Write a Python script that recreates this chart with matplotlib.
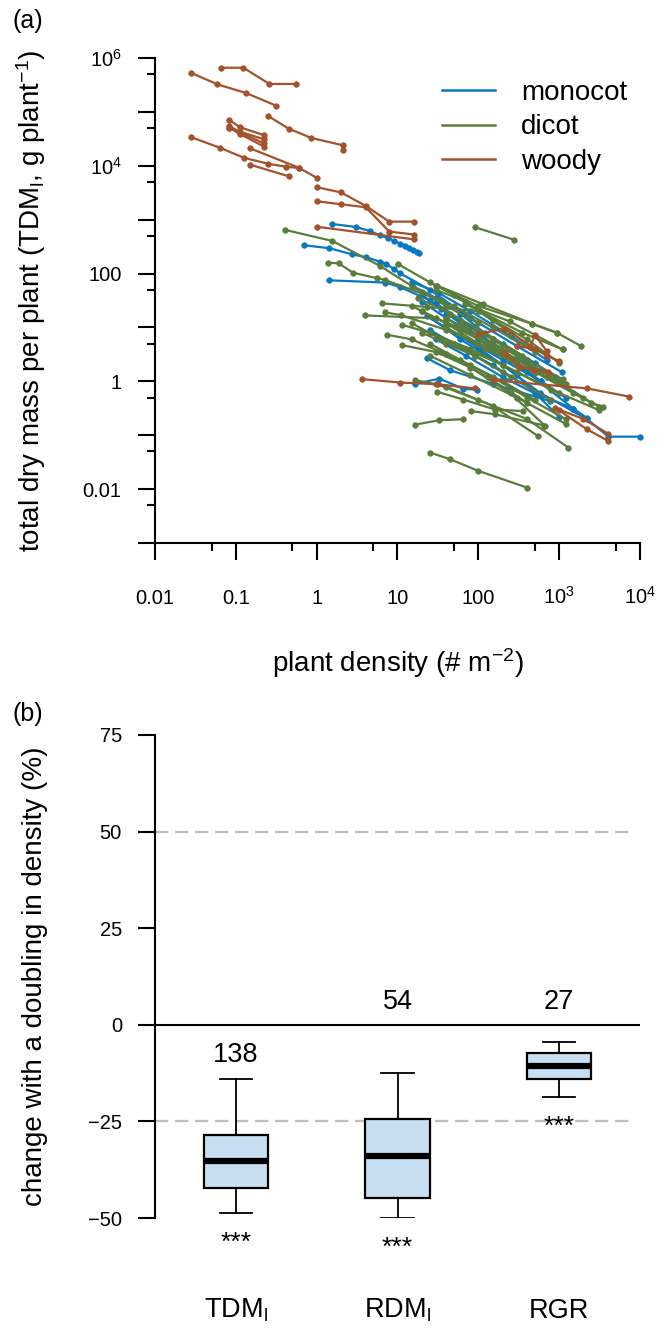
import matplotlib
matplotlib.use("Agg")
import matplotlib.pyplot as plt
from matplotlib.lines import Line2D
from matplotlib.ticker import FixedLocator, NullFormatter

plt.rcParams['font.family'] = ['Liberation Sans', 'DejaVu Sans']
plt.rcParams['mathtext.fontset'] = 'custom'
plt.rcParams['mathtext.rm'] = 'Liberation Sans'
plt.rcParams['mathtext.it'] = 'Liberation Sans:italic'
plt.rcParams['mathtext.default'] = 'regular'

# ---------------- data: panel (a) ----------------
monocot_x = [
    [1.54, 3.08, 4.58, 6.09, 7.59, 9.16, 10.8, 12.4, 14.0, 15.7, 17.3, 18.5],
    [0.70, 1.44, 2.72, 4.08, 6.09, 7.23, 9.16, 10.8, 25, 80, 300, 1080],
    [1.41, 7.08, 10.8, 25, 60],
    [16.5, 33, 65, 95],
    [30, 60, 150, 400, 1500],
    [20, 60, 200, 580, 2200, 4070, 10000],
    [40, 100, 300, 1000],
    [20, 35, 70, 200, 600, 1000],
    [15, 30, 60, 150, 400],
    [23, 45, 150, 770],
    [23, 60, 200, 600, 1200],
    [15, 32, 80, 250, 700],
    [25, 50, 150, 600, 1500, 2200],
    [20, 40, 100, 250, 600],
    [30, 70, 200, 500],
    [40, 80, 200, 500, 900],
]
monocot_y = [
    [832, 732, 609, 514, 457, 402, 359, 330, 303, 274, 249, 238],
    [335, 295, 228, 201, 166, 151, 120, 101, 50, 15, 4.5, 1.48],
    [75, 68, 56, 32, 12],
    [0.9, 1.12, 0.73, 0.70],
    [28, 14, 5, 1.5, 0.31],
    [20, 6, 2, 0.61, 0.20, 0.094, 0.094],
    [10, 4.2, 1.3, 0.22],
    [40, 22, 10, 3.5, 1.6, 1.0],
    [60, 35, 18, 6, 2.5],
    [2.7, 1.6, 0.9, 0.43],
    [16, 7, 2.5, 1.0, 0.5],
    [70, 44, 20, 7, 2.5],
    [9, 5, 2, 0.55, 0.31, 0.21],
    [30, 15, 6, 2.5, 1.0],
    [6, 3, 1.2, 0.6],
    [18, 10, 5, 2.2, 1.2],
]
dicot_x = [
    [0.41, 1.56, 6, 15.5, 40, 100],
    [91, 275],
    [10.1, 30, 100, 467, 933, 1870],
    [1.40, 1.87, 2.80, 5.55, 7.03, 33.7],
    [6.4, 23, 105, 350, 1100],
    [4.0, 30, 100, 300, 1230],
    [7.0, 11, 40, 150, 500],
    [7.5, 15, 40, 130, 400],
    [11.3, 25, 80, 300, 1000],
    [11.3, 30, 80, 250, 670],
    [16.4, 33, 65],
    [25.3, 44.8, 100, 398],
    [81, 161, 658],
    [16.5, 40, 150, 545],
    [30, 100, 400, 1300],
    [40, 120, 500, 1500, 3150],
    [50, 200, 800, 3150],
    [25, 80, 300, 1230],
    [20, 50, 150, 500],
    [15, 40, 100, 300],
    [25, 50, 100, 250, 700],
    [30, 70, 150, 400, 1000],
    [20, 40, 90, 200],
    [35, 80, 200, 500],
    [60, 150, 400, 1100],
    [30.6, 115, 460, 930],
    [69, 245, 1100],
    [20, 60, 200, 700, 2000],
    [15, 35, 90, 250, 800],
    [25, 60, 150, 400, 1200],
    [31, 65, 160, 360],
    [40, 100, 300, 800, 2500, 3500],
    [18, 45, 120, 350],
]
dicot_y = [
    [644, 403, 140, 57, 25, 12],
    [723, 426],
    [151, 59, 25, 11.6, 8.0, 4.5],
    [159, 155, 104, 82, 76, 32],
    [28, 24, 20, 8, 3.9],
    [16.7, 14.8, 7, 2.5, 0.9],
    [19, 17, 9, 4, 1.4],
    [7.3, 6, 3.2, 1.2, 0.4],
    [11.2, 8, 4, 1.5, 0.6],
    [4.7, 3.5, 1.8, 0.6, 0.149],
    [0.157, 0.19, 0.198],
    [0.0475, 0.0358, 0.0218, 0.0107],
    [0.28, 0.245, 0.151],
    [1.06, 0.8, 0.35, 0.097],
    [0.9, 0.45, 0.2, 0.059],
    [10, 4, 1.5, 0.6, 0.34],
    [5, 2, 0.7, 0.29],
    [3, 1.3, 0.5, 0.16],
    [45, 25, 10, 3.5],
    [25, 12, 5, 2],
    [70, 40, 20, 8, 3],
    [50, 30, 14, 6, 2.2],
    [8, 5, 3, 1.5],
    [3.5, 2, 1, 0.45],
    [12, 6, 2.5, 1.1],
    [60, 27, 11.8, 8.0],
    [27, 12.9, 3.9],
    [20, 9, 3.5, 1.2, 0.5],
    [12, 6, 3, 1.2, 0.45],
    [5, 2.5, 1.2, 0.5, 0.2],
    [0.64, 0.46, 0.3, 0.28],
    [15, 7, 3, 1.2, 0.4, 0.33],
    [35, 18, 8, 3],
]
woody_x = [
    [0.066, 0.124, 0.26, 0.55],
    [0.028, 0.059, 0.134, 0.317],
    [0.25, 0.45, 0.85, 2.1, 2.1],
    [0.083, 0.112, 0.223],
    [0.083, 0.112, 0.223],
    [0.083, 0.112, 0.223],
    [0.083, 0.112, 0.223],
    [0.028, 0.063, 0.127, 0.252, 0.415, 0.60],
    [0.150, 0.60, 1.02],
    [0.150, 0.449],
    [1.0, 2.0, 4.05, 7.9, 16.2],
    [1.0, 2.0, 4.05, 7.9, 16.2],
    [1.0, 16.2],
    [3.6, 10.8, 32, 91],
    [150, 2200, 7400],
    [100, 216, 440, 500, 705],
    [300, 500, 700, 990],
    [215, 330, 480, 720],
    [890, 2200, 4070],
    [1000, 2000, 4070],
]
woody_y = [
    [6.6e5, 6.6e5, 3.3e5, 3.3e5],
    [5.3e5, 3.25e5, 2.24e5, 1.3e5],
    [8.4e4, 4.9e4, 3.3e4, 2.4e4, 1.96e4],
    [7.1e4, 5.2e4, 3.7e4],
    [5.5e4, 4.2e4, 2.6e4],
    [4.95e4, 4.3e4, 3.1e4],
    [5.1e4, 3.9e4, 2.27e4],
    [3.4e4, 2.17e4, 1.40e4, 1.09e4, 9.6e3, 9.1e3],
    [2.11e4, 9.2e3, 5.9e3],
    [1.05e4, 6.4e3],
    [4.0e3, 3.2e3, 1.8e3, 920, 920],
    [2.2e3, 1.93e3, 1.7e3, 600, 530],
    [740, 430],
    [1.1, 0.95, 0.88, 0.74],
    [1.05, 0.74, 0.52],
    [7.6, 9.5, 4.4, 7.3, 3.6],
    [4.5, 4.0, 3.0, 2.4],
    [3.3, 1.87, 1.64, 1.51],
    [0.325, 0.129, 0.078],
    [0.30, 0.20, 0.106],
]
group_names = ['monocot', 'dicot', 'woody']
group_colors = ['#0878C0', '#5A7D3C', '#A3522B']

x_major = [0.01, 0.1, 1, 10, 100, 1000, 10000]
x_major_labels = ['0.01', '0.1', '1', '10', '100', '10$^3$', '10$^4$']
y_major = [1e-3, 1e-2, 1e-1, 1, 10, 100, 1e3, 1e4, 1e5, 1e6]
y_major_labels = ['', '0.01', '', '1', '', '100', '', '10$^4$', '', '10$^6$']
x_minor = [0.05, 0.5, 5, 50, 500, 5000]
y_minor = [5e-3, 5e-2, 0.5, 5, 50, 500, 5e3, 5e4, 5e5]

# ---------------- data: panel (b) ----------------
box_names = ['TDM$_l$', 'RDM$_l$', 'RGR']
box_n = ['138', '54', '27']
box_whislo = [-48.6, -49.9, -18.6]
box_q1 = [-42.3, -44.9, -13.9]
box_med = [-35.3, -34.0, -10.6]
box_q3 = [-28.5, -24.3, -7.3]
box_whishi = [-13.9, -12.5, -4.4]
box_signif = ['***', '***', '***']
y2_ticks = [-50, -25, 0, 25, 50, 75]
ref_lines = [50, -25]

# ---------------- figure ----------------
W, H = 671, 1328
fig = plt.figure(figsize=(W / 100, H / 100), dpi=100)

def px_axes(l, r, t, b):
    return [l / W, 1 - b / H, (r - l) / W, (b - t) / H]

ax1 = fig.add_axes(px_axes(155, 640, 58, 543))
ax2 = fig.add_axes(px_axes(155.25, 639.75, 735, 1218))

# panel (a)
for xs, ys, col in [(monocot_x, monocot_y, group_colors[0]),
                    (dicot_x, dicot_y, group_colors[1]),
                    (woody_x, woody_y, group_colors[2])]:
    for x, y in zip(xs, ys):
        ax1.plot(x, y, '-o', color=col, lw=1.6, ms=4.0, mec=col, mew=0.5,
                 clip_on=False)

ax1.set_xscale('log')
ax1.set_yscale('log')
ax1.set_xlim(0.01, 1e4)
ax1.set_ylim(1e-3, 1e6)
for s in ['top', 'right']:
    ax1.spines[s].set_visible(False)
for s in ['left', 'bottom']:
    ax1.spines[s].set_linewidth(1.5)
ax1.xaxis.set_major_locator(FixedLocator(x_major))
ax1.set_xticklabels(x_major_labels)
ax1.xaxis.set_minor_locator(FixedLocator(x_minor))
ax1.xaxis.set_minor_formatter(NullFormatter())
ax1.yaxis.set_major_locator(FixedLocator(y_major))
ax1.set_yticklabels(y_major_labels)
ax1.yaxis.set_minor_locator(FixedLocator(y_minor))
ax1.yaxis.set_minor_formatter(NullFormatter())
ax1.tick_params(axis='both', which='major', length=12, width=1.5, labelsize=14.5)
ax1.tick_params(axis='both', which='minor', length=6, width=1.5)
ax1.tick_params(axis='x', which='major', pad=32)
ax1.tick_params(axis='y', which='major', pad=12)
for lab in ax1.get_xticklabels():
    lab.set_verticalalignment('baseline')

ax1.set_xlabel('plant density (# m$^{-2}$)', fontsize=20)
ax1.xaxis.set_label_coords(0.5, -(672 - 543) / 485)
ax1.xaxis.label.set_verticalalignment('baseline')
ax1.set_ylabel('total dry mass per plant (TDM$_l$, g plant$^{-1}$)', fontsize=20)
ax1.yaxis.set_label_coords(-(155 - 48) / 485, 0.5)

handles = [Line2D([], [], color=c, lw=1.8) for c in group_colors]
ax1.legend(handles, group_names, loc='upper left',
           bbox_to_anchor=((442 - 155) / 485, (543 - 80) / 485),
           frameon=False, fontsize=20, handlelength=1.9, handletextpad=0.95,
           labelspacing=0.3, borderpad=0, borderaxespad=0)

# panel (b)
positions = [1, 2, 3]
stats = []
for i in range(3):
    stats.append(dict(med=box_med[i], q1=box_q1[i], q3=box_q3[i],
                      whislo=box_whislo[i], whishi=box_whishi[i], fliers=[]))
for yv in ref_lines:
    ax2.hlines(yv, 0.5, 3.46, colors='#BEBEBE', lw=1.6, linestyles=(0, (6, 3)),
               zorder=1)
ax2.axhline(0, color='black', lw=1.5, zorder=1)
ax2.bxp(stats, positions=positions, widths=0.4, capwidths=0.2,
        patch_artist=True, showfliers=False,
        boxprops=dict(facecolor='#C8DFF2', edgecolor='black', linewidth=1.6),
        medianprops=dict(color='black', linewidth=4.5, solid_capstyle='butt'),
        whiskerprops=dict(color='black', linewidth=1.3),
        capprops=dict(color='black', linewidth=1.3))

ax2.set_xlim(0.5, 3.5)
ax2.set_ylim(-50, 75)
for s in ['top', 'right', 'bottom']:
    ax2.spines[s].set_visible(False)
ax2.spines['left'].set_linewidth(1.5)
ax2.set_yticks(y2_ticks)
ax2.set_yticklabels([str(v).replace('-', '\u2212') for v in y2_ticks])
ax2.tick_params(axis='y', length=12, width=1.5, labelsize=14.5, pad=12)
ax2.set_xticks([])
ax2.set_ylabel('change with a doubling in density (%)', fontsize=20)
ax2.yaxis.set_label_coords(-(155.25 - 48) / 484.5, 0.5)

n_label_y = [-7.7, 5.9, 5.9]
for i, p in enumerate(positions):
    ax2.text(p, n_label_y[i], box_n[i], ha='center', va='center', fontsize=19.5)
    ax2.annotate(box_signif[i], xy=(p, box_whislo[i]), xytext=(0, -13),
                 textcoords='offset points', ha='center', va='top',
                 fontsize=19, annotation_clip=False)
    ax2.annotate(box_names[i], xy=(p, 0), xycoords=('data', 'axes fraction'),
                 xytext=(0, -72), textcoords='offset points', ha='center',
                 va='baseline', fontsize=19.5, annotation_clip=False)

fig.text(13 / W, 1 - 21 / H, '(a)', ha='left', va='center', fontsize=18)
fig.text(13 / W, 1 - 714 / H, '(b)', ha='left', va='center', fontsize=18)

fig.savefig('out.png', dpi=100)
